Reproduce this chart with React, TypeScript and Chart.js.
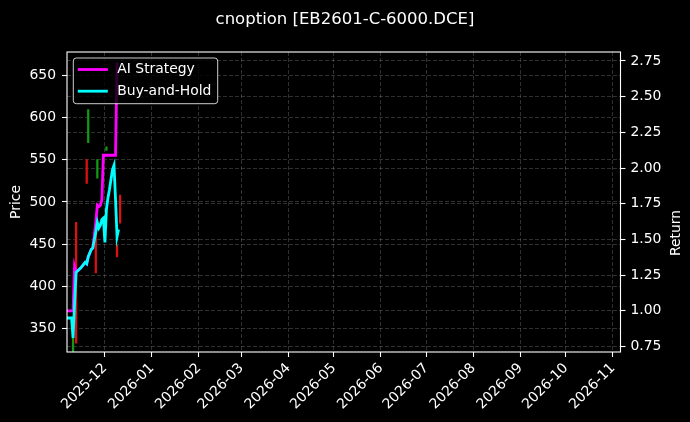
import React, { useEffect, useRef } from 'react';
import { Chart, registerables } from 'chart.js';

Chart.register(...registerables);

const chartTitle = 'cnoption [EB2601-C-6000.DCE]';
const leftAxisLabel = 'Price';
const rightAxisLabel = 'Return';
const seriesNames = ['AI Strategy', 'Buy-and-Hold'];

const lineDates = [
  '2025-11-06', '2025-11-09', '2025-11-10', '2025-11-11', '2025-11-12', '2025-11-15',
  '2025-11-18', '2025-11-19', '2025-11-20', '2025-11-22', '2025-11-23', '2025-11-25',
  '2025-11-26', '2025-11-27', '2025-11-28', '2025-11-29', '2025-11-30', '2025-12-01',
  '2025-12-02', '2025-12-03', '2025-12-04', '2025-12-05', '2025-12-06', '2025-12-07',
  '2025-12-08', '2025-12-09', '2025-12-10',
];
const aiStrategy = [
  1.0, 1.0, 1.0, 1.31, 1.27, 1.3,
  1.34, 1.33, 1.38, 1.43, 1.44, 1.62,
  1.74, 1.73, 1.74, 1.78, 2.09, 2.09,
  2.09, 2.09, 2.09, 2.09, 2.09, 2.09,
  2.09, 2.73, 2.73,
];
const buyHold = [
  0.95, 0.95, 0.81, 1.05, 1.27, 1.3,
  1.34, 1.33, 1.38, 1.43, 1.44, 1.55,
  1.62, 1.58, 1.6, 1.64, 1.65, 1.48,
  1.71, 1.79, 1.85, 1.92, 1.99, 2.02,
  1.78, 1.52, 1.57,
];

const candleDates = [
  '2025-11-10', '2025-11-12', '2025-11-19', '2025-11-20', '2025-11-25',
  '2025-11-26', '2025-12-01', '2025-12-02', '2025-12-09', '2025-12-11',
];
const candleLow = [318, 333, 522, 570, 416, 528, 458, 561, 435, 475];
const candleHigh = [345, 476, 550, 609, 469, 550, 463, 565, 449, 508];
const candleRising = [true, false, false, true, false, true, false, true, false, false];

const priceTicks = [350, 400, 450, 500, 550, 600, 650];
const returnTicks = [0.75, 1.0, 1.25, 1.5, 1.75, 2.0, 2.25, 2.5, 2.75];
const monthTicks = [
  '2025-12-01', '2026-01-01', '2026-02-01', '2026-03-01', '2026-04-01', '2026-05-01',
  '2026-06-01', '2026-07-01', '2026-08-01', '2026-09-01', '2026-10-01', '2026-11-01',
];
const xRange = ['2025-11-06', '2026-11-06'];
const priceRange = [322.6, 677.2];
const returnRange = [0.712, 2.813];

const FONT = 'DejaVu Sans';
const TICK_SIZE = 13.9;

const frameAndLegend = {
  id: 'frameAndLegend',
  afterDatasetsDraw(chart: any) {
    const { ctx, chartArea } = chart;
    const { left, right, top, bottom } = chartArea;
    ctx.save();
    // spines
    ctx.strokeStyle = '#ffffff';
    ctx.lineWidth = 1.1;
    ctx.strokeRect(left, top, right - left, bottom - top);

    // legend
    const bx = left + 6.3, by = top + 6, bw = 144.4, bh = 45.7, r = 3;
    ctx.beginPath();
    ctx.moveTo(bx + r, by);
    ctx.lineTo(bx + bw - r, by);
    ctx.quadraticCurveTo(bx + bw, by, bx + bw, by + r);
    ctx.lineTo(bx + bw, by + bh - r);
    ctx.quadraticCurveTo(bx + bw, by + bh, bx + bw - r, by + bh);
    ctx.lineTo(bx + r, by + bh);
    ctx.quadraticCurveTo(bx, by + bh, bx, by + bh - r);
    ctx.lineTo(bx, by + r);
    ctx.quadraticCurveTo(bx, by, bx + r, by);
    ctx.closePath();
    ctx.fillStyle = 'rgba(0,0,0,0.8)';
    ctx.fill();
    ctx.strokeStyle = 'rgba(255,255,255,0.8)';
    ctx.lineWidth = 1;
    ctx.stroke();

    const colors = [chart.data.datasets[0].borderColor, chart.data.datasets[1].borderColor];
    const labels = [chart.data.datasets[0].label, chart.data.datasets[1].label];
    ctx.font = `${TICK_SIZE}px "${FONT}"`;
    ctx.textBaseline = 'middle';
    ctx.textAlign = 'left';
    for (let i = 0; i < 2; i++) {
      const y = by + 11.5 + i * 21.7;
      ctx.strokeStyle = colors[i];
      ctx.lineWidth = 2.8;
      ctx.beginPath();
      ctx.moveTo(bx + 4.5, y);
      ctx.lineTo(bx + 34.5, y);
      ctx.stroke();
      ctx.fillStyle = '#ffffff';
      ctx.fillText(labels[i], bx + 44, y);
    }

    // right axis title
    ctx.translate(676, 233);
    ctx.rotate(-Math.PI / 2);
    ctx.textAlign = 'center';
    ctx.fillText(rightAxisLabel, 0, 0);
    ctx.restore();
  },
};

export default function App() {
  const canvasRef = useRef<HTMLCanvasElement | null>(null);

  useEffect(() => {
    document.body.style.margin = '0';
    document.body.style.background = '#000';
    const canvas = canvasRef.current;
    if (!canvas) return;
    Chart.defaults.font.family = FONT;
    Chart.defaults.color = '#ffffff';

    const gridColor = 'rgba(150,150,150,0.4)';
    const chart = new Chart(canvas, {
      type: 'line',
      data: {
        datasets: [
          {
            type: 'line',
            label: seriesNames[0],
            data: lineDates.map((d, i) => ({ x: Date.parse(d), y: aiStrategy[i] })),
            borderColor: '#ff00ff',
            backgroundColor: '#ff00ff',
            borderWidth: 2.8,
            pointRadius: 0,
            tension: 0,
            yAxisID: 'y1',
            order: 1,
          },
          {
            type: 'line',
            label: seriesNames[1],
            data: lineDates.map((d, i) => ({ x: Date.parse(d), y: buyHold[i] })),
            borderColor: '#00ffff',
            backgroundColor: '#00ffff',
            borderWidth: 2.8,
            pointRadius: 0,
            tension: 0,
            yAxisID: 'y1',
            order: 0,
          },
          {
            type: 'bar',
            label: 'Candles',
            data: candleDates.map((d, i) => ({ x: Date.parse(d), y: [candleLow[i], candleHigh[i]] })) as any,
            backgroundColor: candleRising.map((u) => (u ? '#129a12' : '#e01010')),
            borderWidth: 0,
            barThickness: 1.6,
            yAxisID: 'y',
            order: 2,
          } as any,
        ],
      },
      options: {
        responsive: false,
        animation: false,
        devicePixelRatio: 1,
        layout: { padding: 0 },
        plugins: {
          legend: { display: false },
          tooltip: { enabled: false },
          title: {
            display: true,
            text: chartTitle,
            color: '#ffffff',
            font: { family: FONT, size: 16.5, weight: 'normal' },
            padding: { top: 9.5, bottom: 22.7 },
          },
        },
        scales: {
          x: {
            type: 'linear',
            offset: false,
            min: Date.parse(xRange[0]),
            max: Date.parse(xRange[1]),
            afterBuildTicks: (s: any) => {
              s.ticks = monthTicks.map((m) => ({ value: Date.parse(m) }));
            },
            afterFit: (s: any) => {
              s.height = 70;
            },
            ticks: {
              autoSkip: false,
              maxRotation: 45,
              minRotation: 45,
              padding: 3,
              color: '#ffffff',
              font: { family: FONT, size: TICK_SIZE },
              callback: (v: any) => new Date(v).toISOString().slice(0, 7),
            },
            grid: {
              offset: false,
              color: gridColor,
              lineWidth: 0.8,
              tickColor: '#ffffff',
              tickLength: 5,
              tickWidth: 1.1,
            },
            border: { display: false, dash: [4, 2] },
          },
          y: {
            type: 'linear',
            position: 'left',
            min: priceRange[0],
            max: priceRange[1],
            afterBuildTicks: (s: any) => {
              s.ticks = priceTicks.map((v) => ({ value: v }));
            },
            afterFit: (s: any) => {
              s.width = 67;
            },
            ticks: {
              padding: 6,
              color: '#ffffff',
              font: { family: FONT, size: TICK_SIZE },
              callback: (v: any) => String(v),
            },
            title: {
              display: true,
              text: leftAxisLabel,
              color: '#ffffff',
              font: { family: FONT, size: TICK_SIZE },
              padding: { top: 8.5, bottom: 0 },
            },
            grid: {
              color: gridColor,
              lineWidth: 0.8,
              tickColor: '#ffffff',
              tickLength: 5,
              tickWidth: 1.1,
            },
            border: { display: false, dash: [4, 2] },
          },
          y1: {
            type: 'linear',
            position: 'right',
            min: returnRange[0],
            max: returnRange[1],
            afterBuildTicks: (s: any) => {
              s.ticks = returnTicks.map((v) => ({ value: v }));
            },
            afterFit: (s: any) => {
              s.width = 69.5;
            },
            ticks: {
              padding: 5,
              color: '#ffffff',
              font: { family: FONT, size: TICK_SIZE },
              callback: (v: any) => Number(v).toFixed(2),
            },
            grid: {
              drawOnChartArea: true,
              color: gridColor,
              lineWidth: 0.8,
              tickColor: '#ffffff',
              tickLength: 5,
              tickWidth: 1.1,
            },
            border: { display: false, dash: [4, 2] },
          },
        },
      } as any,
      plugins: [frameAndLegend],
    });
    return () => chart.destroy();
  }, []);

  return (
    <div style={{ width: 690, height: 422, background: '#000' }}>
      <canvas ref={canvasRef} width={690} height={422} style={{ display: 'block', width: 690, height: 422 }} />
    </div>
  );
}
